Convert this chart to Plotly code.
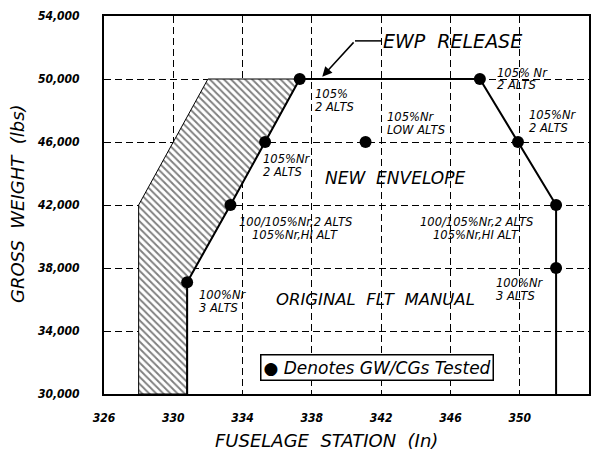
import plotly.graph_objects as go

# --- data ---
tested_x = [330.8, 333.3, 335.3, 337.3, 341.1, 347.7, 349.9, 352.1, 352.1]
tested_y = [37100, 42000, 46000, 50000, 46000, 50000, 46000, 42000, 38000]

envelope_x = [330.8, 330.8, 333.3, 335.3, 337.3, 347.7, 349.9, 352.1, 352.1]
envelope_y = [30000, 37100, 42000, 46000, 50000, 50000, 46000, 42000, 30000]

hatch_x = [328.0, 328.0, 332.0, 337.3, 335.3, 333.3, 330.8, 330.8, 328.0]
hatch_y = [30000, 42000, 50000, 50000, 46000, 42000, 37100, 30000, 30000]

x_ticks = [326, 330, 334, 338, 342, 346, 350, 354]
y_ticks = [30000, 34000, 38000, 42000, 46000, 50000, 54000]
y_ticktext = ["30,000", "34,000", "38,000", "42,000", "46,000", "50,000", "54,000"]

# test-point label lines: (x, y, text, xanchor)
label_lines = [
    (338.1, 49050, "105%", "left"),
    (338.1, 48220, "2 ALTS", "left"),
    (335.15, 44920, "105%Nr", "left"),
    (335.15, 44095, "2 ALTS", "left"),
    (342.3, 47590, "105%Nr", "left"),
    (342.3, 46760, "LOW ALTS", "left"),
    (348.65, 50380, "105% Nr", "left"),
    (348.65, 49620, "2 ALTS", "left"),
    (350.45, 47710, "105%Nr", "left"),
    (350.45, 46890, "2 ALTS", "left"),
    (337.05, 40920, "100/105%Nr,2 ALTS", "center"),
    (337.0, 40100, "105%Nr,HI ALT", "center"),
    (347.5, 40920, "100/105%Nr,2 ALTS", "center"),
    (347.5, 40100, "105%Nr,HI ALT", "center"),
    (331.4, 36290, "100%Nr", "left"),
    (331.4, 35460, "3 ALTS", "left"),
    (348.55, 37050, "100%Nr", "left"),
    (348.55, 36220, "3 ALTS", "left"),
]

FONT = "DejaVu Sans, Liberation Sans, sans-serif"

fig = go.Figure()

fig.add_trace(go.Scatter(
    x=hatch_x, y=hatch_y, mode="lines", fill="toself",
    line=dict(color="black", width=1),
    fillcolor="white",
    fillpattern=dict(shape="\\", fgcolor="black", bgcolor="white", size=5, solidity=0.38),
    hoverinfo="skip", showlegend=False,
))

fig.add_trace(go.Scatter(
    x=envelope_x, y=envelope_y, mode="lines",
    line=dict(color="black", width=2),
    hoverinfo="skip", showlegend=False,
))

fig.add_trace(go.Scatter(
    x=tested_x, y=tested_y, mode="markers",
    marker=dict(color="black", size=12),
    showlegend=False,
))

for (x, y, t, xa) in label_lines:
    fig.add_annotation(x=x, y=y, text=t, showarrow=False, xanchor=xa, yanchor="middle",
                       borderpad=0,
                       font=dict(family=FONT, size=11.5, color="black", style="italic"))

fig.add_annotation(x=342.8, y=43710, text="NEW  ENVELOPE", showarrow=False,
                   font=dict(family=FONT, size=17, color="black", style="italic"))
fig.add_annotation(x=341.65, y=35970, text="ORIGINAL  FLT  MANUAL", showarrow=False,
                   font=dict(family=FONT, size=16.5, color="black", style="italic"))

# EWP release callout
fig.add_annotation(x=342.05, y=52390, text="EWP  RELEASE", showarrow=False, xanchor="left",
                   borderpad=0,
                   font=dict(family=FONT, size=19, color="black", style="italic"))
fig.add_shape(type="line", x0=340.49, y0=52420, x1=342.05, y1=52420,
              line=dict(color="black", width=1.5))
fig.add_annotation(x=338.6, y=50150, ax=340.49, ay=52420, axref="x", ayref="y",
                   text="", showarrow=True, arrowhead=2, arrowsize=1.3, arrowwidth=1.5,
                   arrowcolor="black", standoff=0)

# legend box
fig.add_annotation(xref="paper", yref="paper", x=0.3216, y=0.1058, xanchor="left", yanchor="top",
                   text="● Denotes GW/CGs Tested", showarrow=False,
                   bordercolor="black", borderwidth=1.5, borderpad=2, bgcolor="white",
                   font=dict(family=FONT, size=17, color="black", style="italic"))

# axis titles
fig.add_annotation(xref="paper", yref="paper", x=(326 - 104) / 485, y=-46 / 378, yanchor="middle",
                   text="FUSELAGE  STATION  (In)", showarrow=False,
                   font=dict(family=FONT, size=18, color="black", style="italic"))
fig.add_annotation(xref="paper", yref="paper", x=(17 - 104) / 485, y=(394 - 204) / 378,
                   xanchor="center", yanchor="middle",
                   text="GROSS  WEIGHT  (lbs)", showarrow=False, textangle=-90,
                   font=dict(family=FONT, size=18, color="black", style="italic"))

tickfont = dict(family="DejaVu Sans Condensed, DejaVu Sans, sans-serif", size=12,
                color="black", style="italic", weight="bold")

fig.update_xaxes(range=[326, 354], tickvals=x_ticks, showgrid=True, automargin=False,
                 gridcolor="black", griddash="7px,4px", gridwidth=1,
                 showline=True, mirror=True, linecolor="black", linewidth=2,
                 zeroline=False, ticks="", tickfont=tickfont, ticklabelstandoff=12)
fig.update_yaxes(range=[30000, 54000], tickvals=y_ticks, ticktext=y_ticktext, showgrid=True,
                 automargin=False,
                 gridcolor="black", griddash="7px,4px", gridwidth=1,
                 showline=True, mirror=True, linecolor="black", linewidth=2,
                 zeroline=False, ticks="", tickfont=tickfont, ticklabelstandoff=20)

fig.update_layout(
    width=600, height=452,
    margin=dict(l=104, r=11, t=16, b=58),
    plot_bgcolor="white", paper_bgcolor="white",
    showlegend=False,
)

fig.write_html("out.html", config={"displayModeBar": False},
               post_script="document.body.style.margin='0';document.body.style.overflow='hidden';")
